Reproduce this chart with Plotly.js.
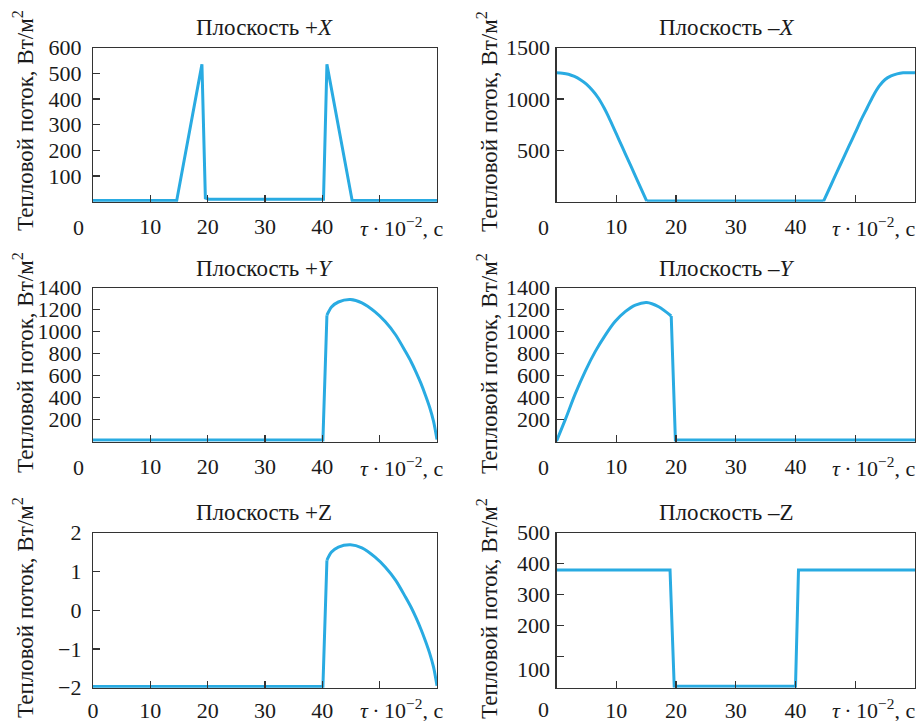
<!DOCTYPE html>
<html>
<head>
<meta charset="utf-8">
<script src="https://cdn.plot.ly/plotly-3.0.1.min.js"></script>
<style>html,body{margin:0;padding:0;background:#fff;}#chart{width:918px;height:721px;}</style>
</head>
<body>
<div id="chart"></div>
<script>
// ---- Data (time in units of 10^2 s, heat flux in W/m^2) ----
const plusX_t = [0, 14.6, 19.0, 19.6, 20.2, 40.2, 40.8, 45.2, 60];
const plusX_q = [5, 5, 535, 15, 10, 10, 535, 5, 5];

const minusX_t = [0, 1, 2, 3, 4, 5, 6, 7, 8, 8.7, 10, 11, 12, 13, 14, 15.1,
                  44.7, 46, 47, 48, 49, 50, 51, 52, 53, 54, 55, 56, 57, 58, 59, 60];
const minusX_q = [1255, 1252, 1242, 1220, 1188, 1145, 1085, 1010, 910, 829, 662, 533, 405, 276, 148, 6,
                  6, 170, 297, 423, 548, 672, 800, 915, 1030, 1125, 1190, 1225, 1245, 1255, 1257, 1255];

const plusY_t = [0, 40.1, 40.8, 41.6, 42.8, 44.9, 46.9, 49.2, 51.0, 52.8, 54.5, 55.5, 56.3, 57.2, 58.0, 58.7, 59.4, 60];
const plusY_q = [15, 15, 1150, 1225, 1270, 1292, 1262, 1180, 1090, 970, 819, 725, 638, 530, 420, 315, 185, 20];

const minusY_t = [0, 1.5, 3.1, 4.8, 6.5, 8.2, 9.8, 11.5, 13.2, 15.1, 17.1, 19.2, 19.9, 60];
const minusY_q = [5, 205, 430, 640, 821, 971, 1092, 1182, 1242, 1266, 1227, 1143, 15, 15];

const plusZ_t = [0, 40.1, 40.8, 41.6, 42.8, 44.9, 46.9, 49.2, 51.0, 52.8, 54.5, 55.5, 56.3, 57.2, 58.0, 58.7, 59.4, 60];
const plusZ_q = [-1.97, -1.97, 1.29, 1.50, 1.63, 1.69, 1.61, 1.37, 1.11, 0.77, 0.34, 0.07, -0.18, -0.49, -0.80, -1.10, -1.47, -1.95];

const minusZ_t = [0, 19.0, 19.7, 40.0, 40.5, 60];
const minusZ_q = [380, 380, 5, 5, 380, 380];

// ---- Tick labels ----
const xTickVals = [10, 20, 30, 40, 50];
const xTickText = ['10', '20', '30', '40', ''];
const xTickValsZ = [0, 10, 20, 30, 40, 50];
const xTickTextZ = ['0', '10', '20', '30', '40', ''];

const yTicksPlusX = [100, 200, 300, 400, 500, 600];
const yTicksMinusX = [500, 1000, 1500];
const yTicksY = [200, 400, 600, 800, 1000, 1200, 1400];
const yTicksPlusZ = [-2, -1, 0, 1, 2];
const yTextPlusZ = ['−2', '−1', '0', '1', '2'];
const yTicksMinusZ = [100, 200, 300, 400, 500];
const yTextMinusZ = ['', '200', '300', '400', '500'];

const titles = ['Плоскость +<i>X</i>', 'Плоскость –<i>X</i>', 'Плоскость +<i>Y</i>', 'Плоскость –<i>Y</i>', 'Плоскость +Z', 'Плоскость –Z'];
const yTitle = 'Тепловой поток, Вт/м<sup>2</sup>';
const xTitle = '<i>τ</i>\u2009·\u200910<sup>−2</sup>, с';

// ---- Layout helpers ----
const W = 918, H = 721;
const FONT = 'Liberation Serif';
const LINE = '#29ABE2';
const AX = '#333333';
const TXT = '#1a1a1a';
const colX = [[93 / W, 437 / W], [556.5 / W, 915 / W]];
const rowY = [[1 - 201.7 / H, 1 - 47.7 / H], [1 - 441.7 / H, 1 - 287.7 / H], [1 - 687.7 / H, 1 - 532.7 / H]];

const series = [
  [plusX_t, plusX_q], [minusX_t, minusX_q],
  [plusY_t, plusY_q], [minusY_t, minusY_q],
  [plusZ_t, plusZ_q], [minusZ_t, minusZ_q]
];
// segments of each series: [first index, last index, line shape]
const segments = [
  [[0, 8, 'linear']],
  [[0, 15, 'spline'], [15, 16, 'linear'], [16, 31, 'spline']],
  [[0, 2, 'linear'], [2, 17, 'spline']],
  [[0, 11, 'spline'], [11, 13, 'linear']],
  [[0, 2, 'linear'], [2, 17, 'spline']],
  [[0, 5, 'linear']]
];
const yRanges = [[0, 600], [0, 1500], [0, 1400], [0, 1400], [-2, 2], [0, 500]];
const yTv = [yTicksPlusX, yTicksMinusX, yTicksY, yTicksY, yTicksPlusZ, yTicksMinusZ];
const yTt = [yTicksPlusX.map(String), yTicksMinusX.map(String), yTicksY.map(String), yTicksY.map(String), yTextPlusZ, yTextMinusZ];

const traces = [];
const layout = {
  width: W, height: H,
  margin: {l: 0, r: 0, t: 0, b: 0},
  paper_bgcolor: '#fff', plot_bgcolor: '#fff',
  showlegend: false,
  font: {family: FONT, size: 22, color: TXT},
  annotations: []
};

function px(x) { return x / W; }
function py(y) { return 1 - y / H; }

for (let i = 0; i < 6; i++) {
  const n = i + 1;
  const col = i % 2, row = Math.floor(i / 2);
  const xa = n === 1 ? 'x' : 'x' + n;
  const ya = n === 1 ? 'y' : 'y' + n;
  segments[i].forEach(function (s) {
    traces.push({
      x: series[i][0].slice(s[0], s[1] + 1), y: series[i][1].slice(s[0], s[1] + 1),
      xaxis: xa, yaxis: ya, type: 'scatter', mode: 'lines',
      line: {color: LINE, width: 3, shape: s[2], smoothing: 0.8}, hoverinfo: 'skip'
    });
  });
  const isZ = (i === 4);
  layout['xaxis' + (n === 1 ? '' : n)] = {
    domain: colX[col], anchor: ya, range: [0, 60],
    showline: true, mirror: true, linecolor: AX, linewidth: 1.2,
    ticks: 'inside', ticklen: 7, tickwidth: 1.2, tickcolor: AX,
    tickmode: 'array',
    tickvals: isZ ? xTickValsZ : xTickVals,
    ticktext: isZ ? xTickTextZ : xTickText,
    tickfont: {family: FONT, size: 22, color: TXT},
    ticklabelstandoff: row === 2 ? 3 : 5,
    showgrid: false, zeroline: false, fixedrange: true
  };
  layout['yaxis' + (n === 1 ? '' : n)] = {
    domain: rowY[row], anchor: xa, range: yRanges[i],
    showline: true, mirror: true, linecolor: AX, linewidth: 1.2,
    ticks: 'inside', ticklen: 7, tickwidth: 1.2, tickcolor: AX,
    tickmode: 'array', tickvals: yTv[i], ticktext: yTt[i],
    tickfont: {family: FONT, size: 22, color: TXT},
    ticklabelstandoff: col === 0 ? 6 : 1,
    showgrid: false, zeroline: false, fixedrange: true
  };
}

const titleX = [264, 726];
const titleY = [28, 268, 512];
const yTitleX = [23, 487];
const yTitleY = [121, 363, 608];
const tickY = [227, 467, 709];
const xTitleRight = [445, 917];
const cornerX = [78.5, 543];

for (let i = 0; i < 6; i++) {
  const col = i % 2, row = Math.floor(i / 2);
  const A = layout.annotations;
  const f = {family: FONT, size: 22, color: TXT};
  const fb = {family: FONT, size: 23, color: TXT};
  A.push({text: titles[i], xref: 'paper', yref: 'paper', x: px(titleX[col]), y: py(titleY[row]),
    xanchor: 'center', yanchor: 'middle', showarrow: false, font: fb});
  A.push({text: yTitle, textangle: -90, xref: 'paper', yref: 'paper', x: px(yTitleX[col]), y: py(yTitleY[row]),
    xanchor: 'center', yanchor: 'middle', showarrow: false, font: fb});
  A.push({text: xTitle, xref: 'paper', yref: 'paper', x: px(xTitleRight[col]), y: py(tickY[row]),
    xanchor: 'right', yanchor: 'middle', showarrow: false, font: f});
  if (i !== 4) {
    A.push({text: '0', xref: 'paper', yref: 'paper', x: px(cornerX[col]), y: py(tickY[row]),
      xanchor: 'center', yanchor: 'middle', showarrow: false, font: f});
  }
}
// displaced "100" label on the -Z panel
layout.annotations.push({text: '100', xref: 'paper', yref: 'paper', x: px(552), y: py(669),
  xanchor: 'right', yanchor: 'middle', showarrow: false, font: {family: FONT, size: 22, color: TXT}});

Plotly.newPlot('chart', traces, layout, {displayModeBar: false, staticPlot: true});
</script>
</body>
</html>
